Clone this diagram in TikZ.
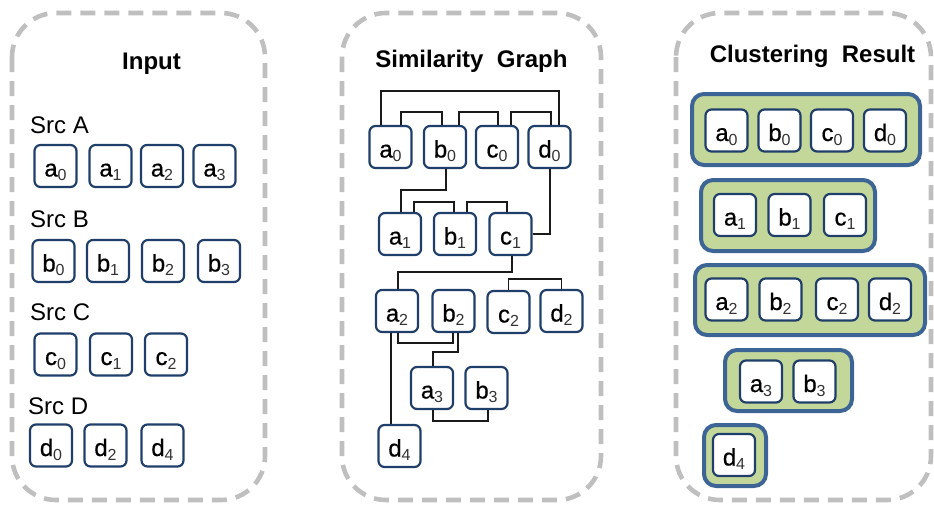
\documentclass[tikz,border=0pt]{standalone}
\usepackage{fontspec}
\setmainfont{Liberation Sans}
\newfontfamily\itmfont[FakeBold=0.6]{Liberation Sans}
\definecolor{panelgray}{HTML}{BFBFBF}
\definecolor{nodeblue}{HTML}{1F3F6A}
\definecolor{clusterblue}{HTML}{3C6494}
\definecolor{clustergreen}{HTML}{C4D79B}
\definecolor{subgray}{HTML}{333333}
\definecolor{linkgray}{HTML}{1A1A1A}
\newcommand\itm[2]{{\fontsize{24}{24}\itmfont #1}\raisebox{-4pt}{\fontsize{16}{16}\selectfont\color{subgray}#2}}
\tikzset{
  panel/.style={draw=panelgray, line width=4.6pt, dash pattern=on 15pt off 9pt, rounded corners=44pt},
  item/.style={draw=nodeblue, line width=2.2pt, rounded corners=6pt, fill=white,
    minimum width=42pt, minimum height=42pt, inner sep=0pt, text height=22pt, text depth=1pt},
  cluster/.style={draw=clusterblue, fill=clustergreen, line width=4pt, rounded corners=12pt, inner sep=0pt},
  title/.style={font=\fontsize{24}{24}\selectfont\bfseries, anchor=base},
  src/.style={font=\fontsize{24}{24}\selectfont, anchor=base west, inner sep=0pt},
  link/.style={draw=linkgray, line width=1.6pt}
}
\begin{document}
\begin{tikzpicture}[x=1pt,y=-1pt]
\useasboundingbox (0,0) rectangle (934,506);
% panels
\draw[panel] (12,13) rectangle (265,500);
\draw[panel] (342,13) rectangle (601,500);
\draw[panel] (676,13) rectangle (931,500);
% titles
\node[title] (t1) at (151.5,69) {Input};
\node[title] (t2) at (471.5,67) {Similarity\ \ Graph};
\node[title] (t3) at (812.5,62) {Clustering\ \ Result};
% input panel
\node[src] (sa) at (30,133) {Src A};
\node[src] (sb) at (30,227) {Src B};
\node[src] (sc) at (30,320) {Src C};
\node[src] (sd) at (28,414) {Src D};
\node[item] (ia0) at (55.5,166) {\itm{a}{0}};
\node[item] (ia1) at (110.5,166) {\itm{a}{1}};
\node[item] (ia2) at (162,166) {\itm{a}{2}};
\node[item] (ia3) at (214.5,166) {\itm{a}{3}};
\node[item] (ib0) at (53.5,261) {\itm{b}{0}};
\node[item] (ib1) at (108,261) {\itm{b}{1}};
\node[item] (ib2) at (163,261) {\itm{b}{2}};
\node[item] (ib3) at (219,261) {\itm{b}{3}};
\node[item] (ic0) at (55.5,354.5) {\itm{c}{0}};
\node[item] (ic1) at (111,354.5) {\itm{c}{1}};
\node[item] (ic2) at (166,354.5) {\itm{c}{2}};
\node[item] (id0) at (51,445.5) {\itm{d}{0}};
\node[item] (id2) at (105.5,445.5) {\itm{d}{2}};
\node[item] (id4) at (162.5,445.5) {\itm{d}{4}};
% similarity graph
\node[item] (ga0) at (390.5,147) {\itm{a}{0}};
\node[item] (gb0) at (445,147) {\itm{b}{0}};
\node[item] (gc0) at (497,147) {\itm{c}{0}};
\node[item] (gd0) at (549.5,147) {\itm{d}{0}};
\node[item] (ga1) at (400,234) {\itm{a}{1}};
\node[item] (gb1) at (455,234) {\itm{b}{1}};
\node[item] (gc1) at (510.5,234) {\itm{c}{1}};
\node[item] (ga2) at (397,311) {\itm{a}{2}};
\node[item] (gb2) at (453.5,311) {\itm{b}{2}};
\node[item] (gc2) at (508.5,312) {\itm{c}{2}};
\node[item] (gd2) at (561.5,311) {\itm{d}{2}};
\node[item] (ga3) at (432,388) {\itm{a}{3}};
\node[item] (gb3) at (486.5,388) {\itm{b}{3}};
\node[item] (gd4) at (399.5,446) {\itm{d}{4}};
\draw[link] ([xshift=-9.5pt]ga0.north) -- ++(0,-34) -| ([xshift=9.5pt]gd0.north);
\draw[link] ([xshift=10.5pt]ga0.north) -- ++(0,-13) -| ([xshift=-3pt]gb0.north);
\draw[link] ([xshift=14pt]gb0.north) -- ++(0,-13) -| ([xshift=1pt]gc0.north);
\draw[link] ([xshift=14pt]gc0.north) -- ++(0,-13) -| ([xshift=1.5pt]gd0.north);
\draw[link] ([xshift=1pt]gb0.south) -- ++(0,21) -| ([xshift=1pt]ga1.north);
\draw[link] ([xshift=14pt]ga1.north) -- ++(0,-10) -| ([xshift=-1pt]gb1.north);
\draw[link] ([xshift=12pt]gb1.north) -- ++(0,-10) -| ([xshift=-3.5pt]gc1.north);
\draw[link] ([xshift=0.5pt]gd0.south) |- (gc1.east);
\draw[link] ([xshift=1.5pt]gc1.south) -- ++(0,16) -| ([xshift=1pt]ga2.north);
\draw[link] (gc2.north) -- ++(0,-11) -| (gd2.north);
\draw[link] ([xshift=1pt]ga2.south) -- ++(0,10) -| ([xshift=-0.5pt]gb2.south);
\draw[link] ([xshift=4.5pt]gb2.south) -- ++(0,19) -| ([xshift=1pt]ga3.north);
\draw[link] ([xshift=1pt]ga3.south) -- ++(0,11) -| ([xshift=1.5pt]gb3.south);
\draw[link] ([xshift=-6pt]ga2.south) -- ([xshift=-8.5pt]gd4.north);
% clustering result
\node[cluster, minimum width=228pt, minimum height=71pt] (k1) at (806,129.5) {};
\node[cluster, minimum width=174pt, minimum height=71pt] (k2) at (788,215.5) {};
\node[cluster, minimum width=230pt, minimum height=70pt] (k3) at (810,300) {};
\node[cluster, minimum width=127pt, minimum height=61pt] (k4) at (788.5,380.5) {};
\node[cluster, minimum width=62pt, minimum height=61pt] (k5) at (735,455.5) {};
\node[item] (ra0) at (726.5,130.5) {\itm{a}{0}};
\node[item] (rb0) at (779.5,130.5) {\itm{b}{0}};
\node[item] (rc0) at (832,130.5) {\itm{c}{0}};
\node[item] (rd0) at (885,130.5) {\itm{d}{0}};
\node[item] (ra1) at (735,215) {\itm{a}{1}};
\node[item] (rb1) at (789.5,215) {\itm{b}{1}};
\node[item] (rc1) at (845,215) {\itm{c}{1}};
\node[item] (ra2) at (726.5,299.5) {\itm{a}{2}};
\node[item] (rb2) at (780.5,299.5) {\itm{b}{2}};
\node[item] (rc2) at (837,299.5) {\itm{c}{2}};
\node[item] (rd2) at (890,299.5) {\itm{d}{2}};
\node[item] (ra3) at (761,381.5) {\itm{a}{3}};
\node[item] (rb3) at (814.5,381.5) {\itm{b}{3}};
\node[item] (rd4) at (734,455) {\itm{d}{4}};
\end{tikzpicture}
\end{document}
